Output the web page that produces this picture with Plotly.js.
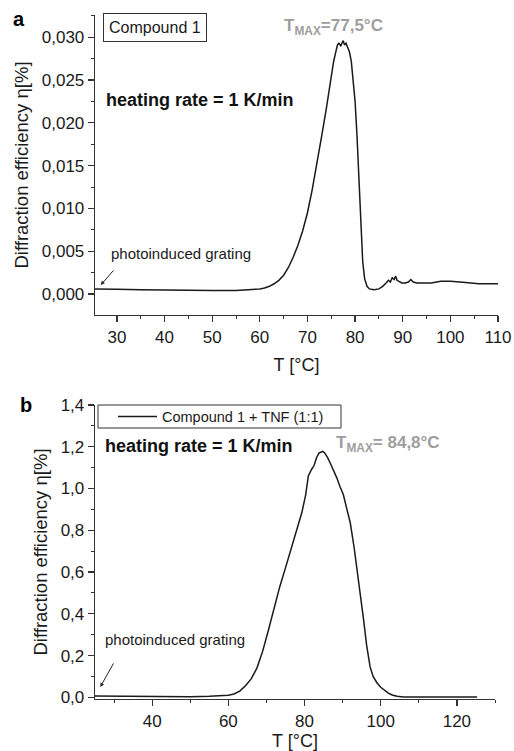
<!DOCTYPE html>
<html>
<head>
<meta charset="utf-8">
<script src="https://cdn.plot.ly/plotly-3.0.1.min.js"></script>
<style>
  html, body { margin: 0; padding: 0; background: #fff; }
  #chart { width: 514px; height: 751px; }
</style>
</head>
<body>
<div id="chart"></div>
<script>
// Panel a: Compound 1, diffraction efficiency vs temperature
const tempA = [25.4, 27, 30, 35, 40, 45, 50, 55, 58, 60, 61, 62, 63, 64, 65, 66, 67, 68, 69, 70,
  71, 72, 73, 74, 75, 75.5, 76, 76.3, 76.6, 77, 77.5, 77.8, 78.1, 78.4, 78.8, 79.2, 79.6, 80,
  80.4, 80.8, 81.2, 81.6, 82, 82.5, 83, 84, 85, 85.8, 86.5, 87, 87.4, 87.8, 88.2, 88.5, 88.8,
  89.2, 89.8, 90.5, 91.2, 91.7, 92.2, 93, 94, 96, 98, 100, 102, 104, 106, 108, 110];
const etaA = [0.0006, 0.0006, 0.00055, 0.0005, 0.00045, 0.00045, 0.0004, 0.00042, 0.0005, 0.0006,
  0.0007, 0.0009, 0.0012, 0.0016, 0.0022, 0.0031, 0.0043, 0.0057, 0.0074, 0.0095,
  0.0122, 0.0152, 0.0185, 0.0218, 0.0256, 0.0272, 0.0284, 0.0291, 0.0293, 0.0290, 0.0296, 0.0291,
  0.0293, 0.0289, 0.0283, 0.0272, 0.0252, 0.0225,
  0.0185, 0.0138, 0.0080, 0.0038, 0.0018, 0.0009, 0.0006, 0.0005, 0.0006, 0.0009, 0.0013, 0.0016,
  0.0014, 0.0019, 0.0017, 0.0021, 0.0016,
  0.0015, 0.0013, 0.0013, 0.0014, 0.0017, 0.0014, 0.0013, 0.0013, 0.0013, 0.0015, 0.0015, 0.0014,
  0.0013, 0.0012, 0.0012, 0.0012];
const tmaxA = 77.5;

// Panel b: Compound 1 + TNF (1:1)
const tempB = [25, 30, 35, 40, 45, 50, 55, 58, 60, 61.5, 63, 64.5, 66, 67.5, 69, 70.5, 72, 73.5,
  75, 76.5, 78, 79.3, 80.3, 81, 81.8, 82.5, 83.2, 83.8, 84.4, 84.8, 85.3, 86, 86.8, 87.6, 88.5,
  89.3, 90.2, 91, 92, 93, 93.7, 94.6, 95.5, 96.3, 97.2, 98, 99, 100, 101, 102, 103, 104.3, 106,
  110, 115, 120, 125.3];
const etaB = [0.006, 0.005, 0.004, 0.003, 0.002, 0.003, 0.005, 0.007, 0.010, 0.016, 0.030, 0.055,
  0.088, 0.14, 0.22, 0.32, 0.43, 0.53, 0.62, 0.71, 0.80, 0.885, 0.97, 1.06, 1.09, 1.11, 1.15,
  1.17, 1.175, 1.178, 1.17, 1.15, 1.12, 1.09, 1.05, 1.01, 0.97, 0.91, 0.836, 0.72, 0.628, 0.50,
  0.372, 0.25, 0.147, 0.10, 0.070, 0.048, 0.032, 0.020, 0.011, 0.005, 0.002, 0.001, 0.001, 0.001,
  0.001];
const tmaxB = 84.8;

const nameA = 'Compound 1';
const nameB = 'Compound 1 + TNF (1:1)';
const rateLabel = 'heating rate = 1 K/min';
const gratingLabel = 'photoinduced grating';
const yTitle = 'Diffraction efficiency η[%]';

const fmtT = v => v.toFixed(1).replace('.', ',');

// plot area spans 95..498 px horizontally and 15..699 px vertically
const L = 95, R = 498, T = 15, B = 699;
const px = x => (x - L) / (R - L);
const py = y => (B - y) / (B - T);

const FONT = 'Liberation Sans, Arial, Helvetica, sans-serif';
const INK = '#1a1a1a';
const GREY = '#9e9e9e';

const traces = [
  { x: tempA, y: etaA, xaxis: 'x', yaxis: 'y', mode: 'lines', name: nameA,
    line: { color: INK, width: 1.5 } },
  { x: tempB, y: etaB, xaxis: 'x2', yaxis: 'y2', mode: 'lines', name: nameB,
    line: { color: INK, width: 1.5 } }
];

function axisBase(extra) {
  return Object.assign({
    showline: true, linecolor: '#333', linewidth: 1.3, mirror: false,
    showgrid: false, zeroline: false,
    ticks: 'outside', ticklen: 6, tickwidth: 1.2, tickcolor: '#333',
    tickfont: { family: FONT, size: 17, color: INK },
    fixedrange: true
  }, extra);
}

const minor = d => ({ dtick: d, ticks: 'outside', ticklen: 3, tickwidth: 1, tickcolor: '#333', showgrid: false });
const xTitleFont = { family: FONT, size: 18, color: INK };
const yTitleFont = { family: FONT, size: 18.5, color: INK };

// boxed key for panel b: frame, line sample and series name
const keyBox = { x0: 98, x1: 341, y0: 405, y1: 428 };
const keyMidY = (keyBox.y0 + keyBox.y1) / 2;

const layout = {
  width: 514, height: 751,
  paper_bgcolor: '#fff', plot_bgcolor: '#fff',
  separators: ',.',
  margin: { l: L, r: 514 - R, t: T, b: 751 - B },
  font: { family: FONT, color: INK, size: 16 },
  showlegend: false,
  xaxis: axisBase({ domain: [0, 1], anchor: 'y', range: [25.4, 110], tick0: 0, dtick: 10,
    minor: minor(5), title: { text: 'T [°C]', standoff: 12, font: xTitleFont } }),
  yaxis: axisBase({ domain: [py(315), 1], anchor: 'x', range: [-0.00245, 0.0326], tick0: 0,
    dtick: 0.005, tickformat: '.3f', minor: minor(0.0025),
    title: { text: yTitle, standoff: 8, font: yTitleFont } }),
  xaxis2: axisBase({ domain: [0, px(495)], anchor: 'y2', range: [25, 130], tick0: 0, dtick: 20,
    minor: minor(10), title: { text: 'T [°C]', standoff: 7, font: xTitleFont } }),
  yaxis2: axisBase({ domain: [0, py(405)], anchor: 'x2', range: [-0.008, 1.4], tick0: 0,
    dtick: 0.2, tickformat: '.1f', minor: minor(0.1),
    title: { text: yTitle, standoff: 8, font: yTitleFont } }),
  shapes: [
    { type: 'rect', xref: 'paper', yref: 'paper', x0: px(keyBox.x0), x1: px(keyBox.x1),
      y0: py(keyBox.y1), y1: py(keyBox.y0), line: { color: '#333', width: 1 }, fillcolor: '#fff' },
    { type: 'line', xref: 'paper', yref: 'paper', x0: px(118), x1: px(157),
      y0: py(keyMidY), y1: py(keyMidY), line: { color: INK, width: 1.5 } }
  ],
  annotations: [
    // panel letters
    { xref: 'paper', yref: 'paper', x: px(19), y: py(19), text: '<b>a</b>', showarrow: false,
      xanchor: 'center', yanchor: 'middle', font: { family: FONT, size: 20, color: '#000' } },
    { xref: 'paper', yref: 'paper', x: px(26), y: py(405), text: '<b>b</b>', showarrow: false,
      xanchor: 'center', yanchor: 'middle', font: { family: FONT, size: 20, color: '#000' } },

    // panel a labels
    { xref: 'paper', yref: 'paper', x: px(155), y: py(28), text: nameA, showarrow: false,
      xanchor: 'center', yanchor: 'middle', bordercolor: '#333', borderwidth: 1, borderpad: 5,
      bgcolor: '#fff', font: { family: FONT, size: 16, color: INK } },
    { xref: 'paper', yref: 'paper', x: px(104), y: py(100), text: '<b>' + rateLabel + '</b>',
      showarrow: false, xanchor: 'left', yanchor: 'middle',
      font: { family: FONT, size: 18, color: '#111' } },
    { xref: 'paper', yref: 'paper', x: px(282), y: py(27),
      text: '<b>T<sub>MAX</sub>=' + fmtT(tmaxA) + '°C</b>', showarrow: false,
      xanchor: 'left', yanchor: 'middle', font: { family: FONT, size: 17, color: GREY } },
    { xref: 'paper', yref: 'paper', x: px(109), y: py(253), text: gratingLabel, showarrow: false,
      xanchor: 'left', yanchor: 'middle', font: { family: FONT, size: 15, color: INK } },
    { xref: 'x', yref: 'y', x: 26.6, y: 0.00105, text: '', showarrow: true, arrowhead: 2,
      arrowsize: 0.8, arrowwidth: 1, arrowcolor: '#222', ax: 14, ay: -16 },

    // panel b labels
    { xref: 'paper', yref: 'paper', x: px(160), y: py(keyMidY), text: nameB, showarrow: false,
      xanchor: 'left', yanchor: 'middle', font: { family: FONT, size: 14.5, color: INK } },
    { xref: 'paper', yref: 'paper', x: px(103), y: py(446), text: '<b>' + rateLabel + '</b>',
      showarrow: false, xanchor: 'left', yanchor: 'middle',
      font: { family: FONT, size: 18, color: '#111' } },
    { xref: 'paper', yref: 'paper', x: px(334), y: py(444),
      text: '<b>T<sub>MAX</sub>= ' + fmtT(tmaxB) + '°C</b>', showarrow: false,
      xanchor: 'left', yanchor: 'middle', font: { family: FONT, size: 17, color: GREY } },
    { xref: 'paper', yref: 'paper', x: px(103), y: py(639), text: gratingLabel, showarrow: false,
      xanchor: 'left', yanchor: 'middle', font: { family: FONT, size: 15, color: INK } },
    { xref: 'x2', yref: 'y2', x: 26.4, y: 0.05, text: '', showarrow: true, arrowhead: 2,
      arrowsize: 0.8, arrowwidth: 1, arrowcolor: '#222', ax: 14, ay: -25 }
  ]
};

Plotly.newPlot('chart', traces, layout, { staticPlot: true, displayModeBar: false });
</script>
</body>
</html>
